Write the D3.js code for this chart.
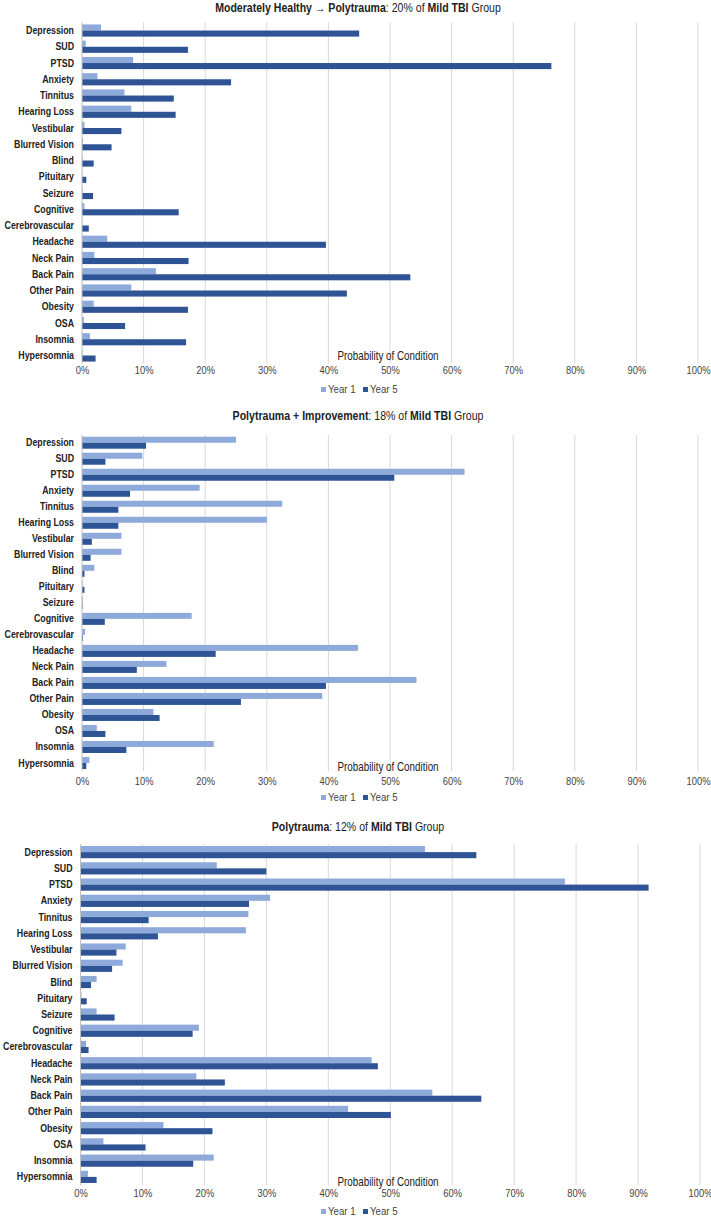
<!DOCTYPE html>
<html><head><meta charset="utf-8">
<script src="https://cdn.jsdelivr.net/npm/d3@7"></script>
<style>
html,body{margin:0;padding:0;background:#fff;}
svg{display:block;font-family:"Liberation Sans",Arial,sans-serif;}
</style></head>
<body>
<svg id="chart" width="711" height="1217"></svg>
<script>
const categories = ["Depression","SUD","PTSD","Anxiety","Tinnitus","Hearing Loss","Vestibular","Blurred Vision","Blind","Pituitary","Seizure","Cognitive","Cerebrovascular","Headache","Neck Pain","Back Pain","Other Pain","Obesity","OSA","Insomnia","Hypersomnia"];
const seriesNames = ["Year 1","Year 5"];
const tickValues = [0,0.1,0.2,0.3,0.4,0.5,0.6,0.7,0.8,0.9,1.0];
const tickLabels = ["0%","10%","20%","30%","40%","50%","60%","70%","80%","90%","100%"];
const axisTitle = "Probability of Condition";

const year1_p1 = [3.1,0.6,8.3,2.5,6.9,8.0,0.4,0.15,0.1,0.05,0.1,0.4,0.05,4.1,2.0,12.0,8.0,1.9,0.3,1.3,0.1];
const year5_p1 = [45.0,17.2,76.2,24.2,14.9,15.2,6.4,4.8,1.9,0.7,1.8,15.7,1.1,39.6,17.3,53.3,43.0,17.2,7.0,16.9,2.2];
const title_p1 = [["Moderately Healthy \u2192 Polytrauma",true],[": 20% of ",false],["Mild TBI",true],[" Group",false]];

const year1_p2 = [25.0,9.8,62.1,19.1,32.5,30.0,6.4,6.4,2.0,0.1,0.15,17.8,0.5,44.8,13.7,54.3,39.0,11.6,2.4,21.4,1.2];
const year5_p2 = [10.4,3.8,50.7,7.8,5.9,5.9,1.6,1.4,0.4,0.4,0.1,3.7,0.15,21.7,8.9,39.6,25.8,12.6,3.8,7.2,0.7];
const title_p2 = [["Polytrauma + Improvement",true],[": 18% of ",false],["Mild TBI",true],[" Group",false]];

const year1_p3 = [55.6,22.0,78.2,30.6,27.1,26.7,7.3,6.8,2.6,0.15,2.6,19.1,0.9,47.0,18.7,56.8,43.2,13.4,3.7,21.5,1.2];
const year5_p3 = [63.9,30.0,91.7,27.2,11.0,12.5,5.8,5.1,1.7,1.0,5.5,18.1,1.3,48.0,23.3,64.7,50.1,21.3,10.5,18.2,2.6];
const title_p3 = [["Polytrauma",true],[": 12% of ",false],["Mild TBI",true],[" Group",false]];

const colors = ["#8eaadb","#2f5496"];

const panels = [
  {title:title_p1, y1:year1_p1, y5:year5_p1, titleY:11.5, top:22.4, bottom:363.6, x0:82, x1:698, tickY:375, axisTitleY:360, legendY:394},
  {title:title_p2, y1:year1_p2, y5:year5_p2, titleY:420, top:434.7, bottom:771, x0:82, x1:698, tickY:786, axisTitleY:771, legendY:802},
  {title:title_p3, y1:year1_p3, y5:year5_p3, titleY:831, top:844, bottom:1185, x0:80.5, x1:700, tickY:1198, axisTitleY:1186, legendY:1216}
];

function narrow(sel, k){
  sel.each(function(){
    const t = d3.select(this);
    const x = +t.attr("x") || 0, y = +t.attr("y") || 0;
    t.attr("x",0).attr("y",0).attr("transform",`translate(${x},${y}) scale(${k},1)`);
  });
}

const svg = d3.select("#chart");

panels.forEach(p => {
  const g = svg.append("g");
  const x = d3.scaleLinear().domain([0,1]).range([p.x0,p.x1]);
  const y = d3.scaleBand().domain(categories).range([p.top,p.bottom]).paddingInner(0.25).paddingOuter(0.125);
  const ys = d3.scaleBand().domain(seriesNames).range([0,y.bandwidth()]);

  // title
  const t = g.append("text").attr("x",358).attr("y",p.titleY).attr("text-anchor","middle")
    .attr("font-size",12).attr("fill","#222");
  p.title.forEach(([s,b]) => t.append("tspan").text(s).attr("font-weight",b?"bold":"normal"));
  narrow(t, 0.88);

  // gridlines
  g.append("g").selectAll("line").data(tickValues.slice(1)).join("line")
    .attr("x1",d=>x(d)).attr("x2",d=>x(d)).attr("y1",p.top).attr("y2",p.bottom)
    .attr("stroke","#d9d9d9").attr("stroke-width",1);

  // x axis tick labels
  const xAxis = d3.axisBottom(x).tickValues(tickValues).tickFormat((d,i)=>tickLabels[i]).tickSize(0).tickPadding(0);
  const ax = g.append("g").attr("transform",`translate(0,${p.tickY-9})`).call(xAxis);
  ax.select(".domain").remove();
  ax.selectAll("text").attr("font-size",11).attr("fill","#444").attr("font-family","inherit");
  narrow(ax.selectAll("text"), 0.85);

  // bars
  const rows = categories.map((c,i)=>({c, vals:[p.y1[i]/100, p.y5[i]/100]}));
  const rg = g.append("g").selectAll("g").data(rows).join("g").attr("transform",d=>`translate(0,${y(d.c)})`);
  rg.selectAll("rect").data(d=>d.vals.map((v,k)=>({v,k}))).join("rect")
    .attr("x",x(0)).attr("y",d=>ys(seriesNames[d.k]))
    .attr("width",d=>Math.max(0,x(d.v)-x(0))).attr("height",ys.bandwidth())
    .attr("fill",d=>colors[d.k]);

  // y axis line
  g.append("line").attr("x1",x(0)).attr("x2",x(0)).attr("y1",p.top).attr("y2",p.bottom)
    .attr("stroke","#bfbfbf").attr("stroke-width",1);

  // y axis labels
  const yAxis = d3.axisLeft(y).tickSize(0).tickPadding(8);
  const ay = g.append("g").attr("transform",`translate(${x(0)},0)`).call(yAxis);
  ay.select(".domain").remove();
  ay.selectAll("text").attr("font-size",11).attr("font-weight","bold").attr("fill","#222").attr("font-family","inherit");
  narrow(ay.selectAll("text"), 0.8);

  // axis title
  const at = g.append("text").attr("x",388).attr("y",p.axisTitleY).attr("text-anchor","middle")
    .attr("font-size",12).attr("fill","#222").text(axisTitle);
  narrow(at, 0.82);

  // legend
  const lg = g.append("g").attr("transform",`translate(321,${p.legendY})`);
  const items = lg.selectAll("g").data(seriesNames).join("g").attr("transform",(d,i)=>`translate(${i*42},0)`);
  items.append("rect").attr("x",0).attr("y",-7).attr("width",5).attr("height",5).attr("fill",(d,i)=>colors[i]);
  const lt = items.append("text").attr("x",7).attr("y",-1).attr("font-size",11).attr("fill","#444").text(d=>d);
  narrow(lt, 0.88);
});
</script>
</body></html>
